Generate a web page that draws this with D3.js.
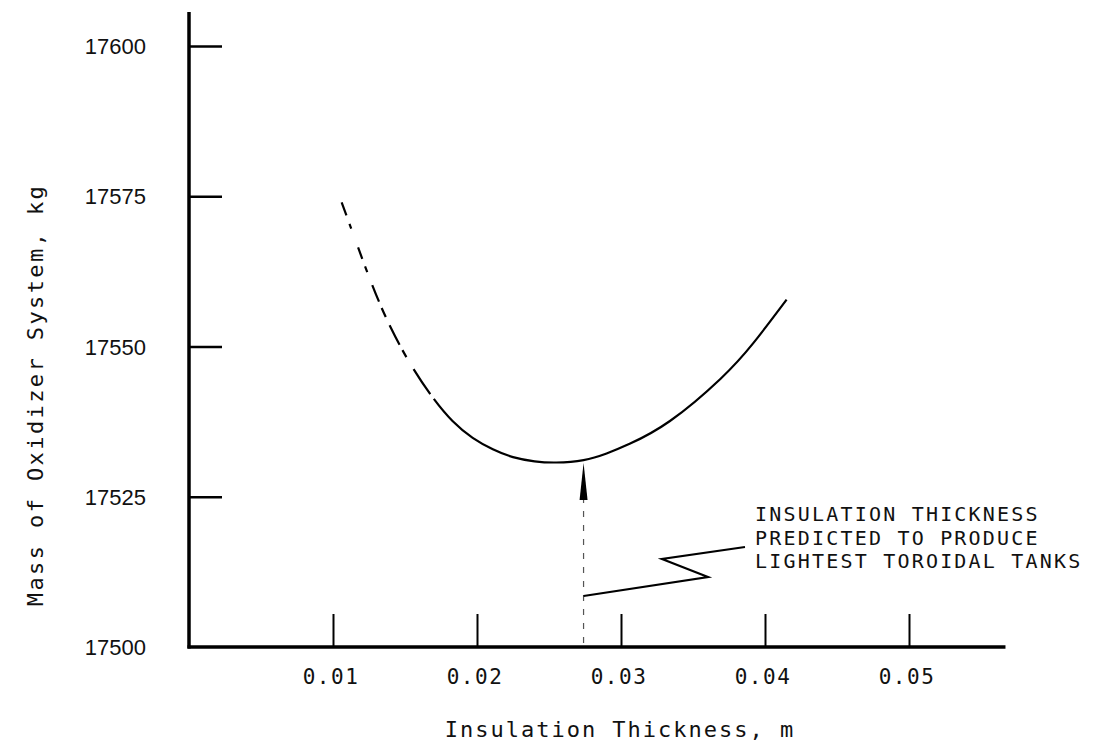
<!DOCTYPE html>
<html>
<head>
<meta charset="utf-8">
<script src="https://cdn.jsdelivr.net/npm/d3@7"></script>
<style>
  html, body { margin: 0; padding: 0; background: #fff; }
  svg { display: block; }
</style>
</head>
<body>
<svg id="chart" width="1106" height="746"></svg>
<script>
// ---- data ----
const xTicks = [0.01, 0.02, 0.03, 0.04, 0.05];
const xTickLabels = ["0.01", "0.02", "0.03", "0.04", "0.05"];
const yTicks = [17500, 17525, 17550, 17575, 17600];
const yTickLabels = ["17500", "17525", "17550", "17575", "17600"];
const thickness = [0.0106, 0.0126, 0.0140, 0.0154, 0.0169, 0.0183, 0.0197, 0.0211, 0.0225, 0.0240, 0.0255, 0.0274, 0.0290, 0.0306, 0.0334, 0.0369, 0.0392, 0.0415];
const mass      = [17574.0, 17561.0, 17553.2, 17547.0, 17541.6, 17537.6, 17534.8, 17532.9, 17531.6, 17530.9, 17530.7, 17531.1, 17532.2, 17533.8, 17537.6, 17544.6, 17550.6, 17557.8];
const optimumThickness = 0.0274;
const annotationLines = ["INSULATION THICKNESS", "PREDICTED TO PRODUCE", "LIGHTEST TOROIDAL TANKS"];
const xTitle = "Insulation Thickness, m";
const yTitle = "Mass of Oxidizer System, kg";

// ---- scales ----
const svg = d3.select("#chart");
const x = d3.scaleLinear().domain([0, 0.05]).range([189, 909]);
const y = d3.scaleLinear().domain([17500, 17600]).range([647, 46]);
const mono = "'DejaVu Sans Mono', 'Liberation Mono', monospace";

// axes lines
svg.append("line").attr("x1", x(0)).attr("x2", x(0)).attr("y1", 12).attr("y2", y(17500) + 1.5)
  .attr("stroke", "#000").attr("stroke-width", 3.5);
svg.append("line").attr("x1", x(0) - 1.5).attr("x2", x(0.0567)).attr("y1", y(17500)).attr("y2", y(17500))
  .attr("stroke", "#000").attr("stroke-width", 3.5);

// y ticks (inward)
const yAxis = d3.axisRight(y).tickValues(yTicks.slice(1)).tickSize(33).tickFormat("");
const yg = svg.append("g").attr("transform", `translate(${x(0)},0)`).call(yAxis);
yg.select(".domain").remove();
yg.selectAll(".tick line").attr("stroke", "#000").attr("stroke-width", 2.5);

// y tick labels
svg.append("g").selectAll("text").data(yTicks).join("text")
  .attr("x", 146).attr("y", d => y(d) + 8)
  .attr("text-anchor", "end")
  .attr("font-family", "'Liberation Sans', Arial, sans-serif")
  .attr("font-size", 22)
  .attr("fill", "#111")
  .text((d, i) => yTickLabels[i]);

// x ticks (inward)
const xAxis = d3.axisTop(x).tickValues(xTicks).tickSize(33).tickFormat("");
const xg = svg.append("g").attr("transform", `translate(0,${y(17500)})`).call(xAxis);
xg.select(".domain").remove();
xg.selectAll(".tick line").attr("stroke", "#000").attr("stroke-width", 2);

// x tick labels
svg.append("g").selectAll("text").data(xTicks).join("text")
  .attr("x", d => x(d) - 2).attr("y", 684)
  .attr("text-anchor", "middle")
  .attr("font-family", mono)
  .attr("font-size", 21)
  .attr("letter-spacing", 1.5)
  .attr("fill", "#111")
  .text((d, i) => xTickLabels[i]);

// axis titles
svg.append("text")
  .attr("x", 620).attr("y", 737)
  .attr("text-anchor", "middle")
  .attr("font-family", mono).attr("font-size", 22).attr("letter-spacing", 2)
  .attr("fill", "#111")
  .text(xTitle);
svg.append("text")
  .attr("transform", "translate(43,395) rotate(-90)")
  .attr("text-anchor", "middle")
  .attr("font-family", mono).attr("font-size", 22).attr("letter-spacing", 2.4)
  .attr("fill", "#111")
  .text(yTitle);

// curve
const pts = thickness.map((t, i) => [t, mass[i]]);
const line = d3.line().x(d => x(d[0])).y(d => y(d[1])).curve(d3.curveNatural);
const full = svg.append("path").datum(pts)
  .attr("d", line).attr("fill", "none").attr("stroke", "#000")
  .attr("stroke-width", 2.2);
// left part of the original trace is broken: emulate with a dash pattern on the first stretch
const total = full.node().getTotalLength();
const brokenLen = 230;
let pattern = [];
let acc = 0;
const dashes = [[14, 9], [5, 20], [12, 8], [6, 14], [18, 7], [10, 9], [22, 6], [8, 14], [30, 6]];
for (const [on, off] of dashes) { if (acc >= brokenLen) break; pattern.push(on, off); acc += on + off; }
pattern.push(total, 0);
full.attr("stroke-dasharray", pattern.join(" "));

// optimum arrow
const ax = x(optimumThickness);
svg.append("line").attr("x1", ax).attr("x2", ax).attr("y1", 497).attr("y2", y(17500))
  .attr("stroke", "#555").attr("stroke-width", 1.2).attr("stroke-dasharray", "6 8");
svg.append("path")
  .attr("d", `M${ax},${y(17531.1) + 3} L${ax - 4},${500} L${ax + 4},${500} Z`)
  .attr("fill", "#000");

// leader zigzag
svg.append("path")
  .attr("d", `M${ax},596 L708,577 L662,559 L745,547`)
  .attr("fill", "none").attr("stroke", "#000").attr("stroke-width", 2.2)
  .attr("stroke-linejoin", "miter");

// annotation text
svg.append("g").selectAll("text").data(annotationLines).join("text")
  .attr("x", 755).attr("y", (d, i) => 521 + i * 23.5)
  .attr("font-family", mono).attr("font-size", 20).attr("letter-spacing", 2.2)
  .attr("fill", "#111")
  .text(d => d);
</script>
</body>
</html>
